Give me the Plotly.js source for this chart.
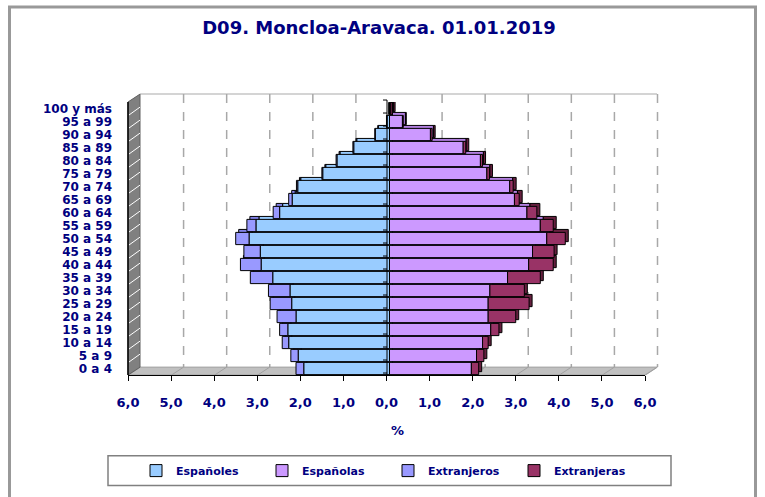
<!DOCTYPE html>
<html>
<head>
<meta charset="utf-8">
<script src="https://cdn.plot.ly/plotly-3.0.1.min.js"></script>
<style>
  body { margin: 0; background: #fff; }
  #plot { width: 765px; height: 497px; }
</style>
</head>
<body>
<div id="plot"></div>
<script>
// Age groups, bottom to top
var grupos = ['0 a 4', '5 a 9', '10 a 14', '15 a 19', '20 a 24', '25 a 29', '30 a 34',
  '35 a 39', '40 a 44', '45 a 49', '50 a 54', '55 a 59', '60 a 64', '65 a 69',
  '70 a 74', '75 a 79', '80 a 84', '85 a 89', '90 a 94', '95 a 99', '100 y más'];

// % of population (men drawn to the left)
var espanoles = [1.99, 2.12, 2.34, 2.36, 2.17, 2.27, 2.31, 2.71, 2.98, 3.00, 3.26,
  3.10, 2.55, 2.26, 2.13, 1.55, 1.22, 0.83, 0.33, 0.06, 0.02];
var extranjeros = [0.18, 0.17, 0.15, 0.19, 0.44, 0.50, 0.50, 0.52, 0.48, 0.38, 0.31,
  0.21, 0.15, 0.08, 0.03, 0.02, 0.02, 0.02, 0.01, 0.01, 0.00];
var espanolas = [1.90, 2.02, 2.16, 2.35, 2.29, 2.29, 2.33, 2.74, 3.23, 3.32, 3.65,
  3.50, 3.19, 2.90, 2.79, 2.26, 2.11, 1.71, 0.95, 0.30, 0.02];
var extranjeras = [0.17, 0.17, 0.13, 0.19, 0.64, 0.95, 0.80, 0.76, 0.57, 0.50, 0.43,
  0.30, 0.23, 0.11, 0.08, 0.06, 0.05, 0.06, 0.04, 0.02, 0.04];

var tickVals = [-6, -5, -4, -3, -2, -1, 0, 1, 2, 3, 4, 5, 6];
var tickText = ['6,0', '5,0', '4,0', '3,0', '2,0', '1,0', '0,0', '1,0', '2,0', '3,0', '4,0', '5,0', '6,0'];

var navy = '#000080';
var fontFam = 'DejaVu Sans, Verdana, sans-serif';

// plot area in pixels
var L = 128, R = 645, T = 102, B = 379;
var pxPerUnit = (R - L) / 12;
var rowH = (B - T) / 21;
function fx(px) { return (px - L) / (R - L); }
function fy(py) { return (B - py) / (B - T); }
function neg(arr) { return arr.map(function (v) { return -v; }); }

// depth of the 3d look
var DX = 12, DY = 8;

function barTrace(name, vals, color, xa, ya, legend) {
    return {
        type: 'bar', orientation: 'h', name: name,
        y: grupos, x: vals, xaxis: xa, yaxis: ya,
        marker: { color: color, line: { color: '#000', width: 1 } },
        showlegend: legend, hoverinfo: 'skip'
    };
}

var data = [
    // back faces (shifted copy)
    barTrace('Españoles', neg(espanoles), '#99CCFF', 'x', 'y', false),
    barTrace('Españolas', espanolas, '#B27FE0', 'x', 'y', false),
    barTrace('Extranjeros', neg(extranjeros), '#8080E6', 'x', 'y', false),
    barTrace('Extranjeras', extranjeras, '#66203F', 'x', 'y', false),
    // front faces
    barTrace('Españoles', neg(espanoles), '#99CCFF', 'x2', 'y2', true),
    barTrace('Españolas', espanolas, '#CC99FF', 'x2', 'y2', true),
    barTrace('Extranjeros', neg(extranjeros), '#9999FF', 'x2', 'y2', true),
    barTrace('Extranjeras', extranjeras, '#993366', 'x2', 'y2', true),
    // empty trace so the front value axis gets drawn
    { type: 'scatter', x: [], y: [], xaxis: 'x3', yaxis: 'y', showlegend: false, hoverinfo: 'skip' }
];

var shapes = [];
// outer frame
shapes.push({ type: 'rect', xref: 'paper', yref: 'paper', x0: fx(9.5), x1: fx(755.5),
    y0: fy(505), y1: fy(5.5), line: { color: '#999', width: 3 }, layer: 'below' });
// back top edge
shapes.push({ type: 'line', xref: 'paper', yref: 'paper', x0: fx(L + DX), x1: fx(R + DX),
    y0: fy(T - DY), y1: fy(T - DY), line: { color: '#D4D4D4', width: 2 }, layer: 'below' });
// back gridlines
tickVals.forEach(function (v) {
    if (v === 0 || v === -6) return;
    var px = 387 + v * pxPerUnit + DX;
    shapes.push({ type: 'line', xref: 'paper', yref: 'paper', x0: fx(px), x1: fx(px),
        y0: fy(T - DY), y1: fy(B - DY), line: { color: '#A8A8A8', width: 1.5, dash: 'dash' }, layer: 'below' });
});
// floor
shapes.push({ type: 'path', xref: 'paper', yref: 'paper', layer: 'below',
    path: 'M' + fx(L) + ',' + fy(B) + ' L' + fx(R) + ',' + fy(B) + ' L' + fx(R + DX) + ',' + fy(B - DY) +
        ' L' + fx(L + DX) + ',' + fy(B - DY) + ' Z',
    fillcolor: '#C0C0C0', line: { color: '#A0A0A0', width: 1 } });
tickVals.forEach(function (v) {
    var px = 387 + v * pxPerUnit;
    shapes.push({ type: 'line', xref: 'paper', yref: 'paper', x0: fx(px), x1: fx(px + DX),
        y0: fy(B), y1: fy(B - DY), line: { color: '#A0A0A0', width: 1 }, layer: 'below' });
});
// left wall
shapes.push({ type: 'path', xref: 'paper', yref: 'paper', layer: 'below',
    path: 'M' + fx(L) + ',' + fy(B) + ' L' + fx(L) + ',' + fy(T) + ' L' + fx(L + DX) + ',' + fy(T - DY) +
        ' L' + fx(L + DX) + ',' + fy(B - DY) + ' Z',
    fillcolor: '#808080', line: { color: '#606060', width: 1 } });
for (var k = 1; k < 21; k++) {
    var yk = B - k * rowH;
    shapes.push({ type: 'line', xref: 'paper', yref: 'paper', x0: fx(L + 1), x1: fx(L + DX),
        y0: fy(yk), y1: fy(yk - DY), line: { color: '#fff', width: 1 }, layer: 'below' });
}
shapes.push({ type: 'line', xref: 'paper', yref: 'paper', x0: fx(L), x1: fx(L),
    y0: fy(B), y1: fy(T), line: { color: '#000', width: 1.5 }, layer: 'below' });
// axis at 0 with small ticks
shapes.push({ type: 'line', xref: 'paper', yref: 'paper', x0: fx(387), x1: fx(387),
    y0: fy(B), y1: fy(T - 2), line: { color: '#000', width: 1 } });
for (var j = 0; j <= 21; j++) {
    var yj = B - j * rowH - 2;
    shapes.push({ type: 'line', xref: 'paper', yref: 'paper', x0: fx(383), x1: fx(387),
        y0: fy(yj), y1: fy(yj), line: { color: '#000', width: 1 } });
}
// legend box
shapes.push({ type: 'rect', xref: 'paper', yref: 'paper', x0: fx(108), x1: fx(671),
    y0: fy(491), y1: fy(461), line: { color: '#808080', width: 1.5 }, fillcolor: '#fff', layer: 'below' });

var layout = {
    width: 765, height: 497,
    margin: { l: L, r: 765 - R, t: T, b: 497 - B, pad: 0 },
    paper_bgcolor: '#fff', plot_bgcolor: 'rgba(0,0,0,0)',
    barmode: 'relative', bargap: 0.06,
    title: { text: 'D09. Moncloa-Aravaca. 01.01.2019', x: 379 / 765, xanchor: 'center',
        y: 1 - 28 / 497, yanchor: 'middle',
        font: { family: fontFam, size: 18, weight: 'bold', color: navy } },
    xaxis: { visible: false, range: [-6 - 6 / pxPerUnit, 6 - 6 / pxPerUnit], fixedrange: true },
    yaxis: { visible: false, type: 'category', range: [-0.5 - 3 / rowH, 20.5 - 3 / rowH], fixedrange: true },
    xaxis2: { overlaying: 'x', visible: false, range: [-6 - 3 / pxPerUnit, 6 - 3 / pxPerUnit], fixedrange: true },
    yaxis2: { overlaying: 'y', side: 'left', type: 'category', range: [-0.5, 20.5],
        tickmode: 'array', tickvals: grupos, ticktext: grupos,
        showgrid: false, zeroline: false, showline: false, ticks: '', ticklabelstandoff: 15,
        tickfont: { family: fontFam, size: 12, weight: 'bold', color: navy }, fixedrange: true },
    xaxis3: { overlaying: 'x', anchor: 'y', side: 'bottom', range: [-6, 6],
        tickmode: 'array', tickvals: tickVals, ticktext: tickText, showgrid: false, zeroline: false,
        showline: true, linecolor: '#000', linewidth: 1,
        ticks: 'outside', ticklen: 5, tickcolor: '#000', ticklabelstandoff: 10,
        tickfont: { family: fontFam, size: 13, weight: 'bold', color: navy }, fixedrange: true },
    showlegend: true,
    legend: { orientation: 'h', x: fx(136), xanchor: 'left', y: fy(476), yanchor: 'middle',
        entrywidth: 81, bgcolor: 'rgba(0,0,0,0)', borderwidth: 0, traceorder: 'normal',
        font: { family: fontFam, size: 11, weight: 'bold', color: navy } },
    annotations: [{ text: '%', xref: 'paper', yref: 'paper', x: fx(397), y: fy(435),
        xanchor: 'center', yanchor: 'middle', showarrow: false,
        font: { family: fontFam, size: 13, weight: 'bold', color: navy } }],
    shapes: shapes,
    hovermode: false
};

Plotly.newPlot('plot', data, layout, { displayModeBar: false, staticPlot: true });
</script>
</body>
</html>
